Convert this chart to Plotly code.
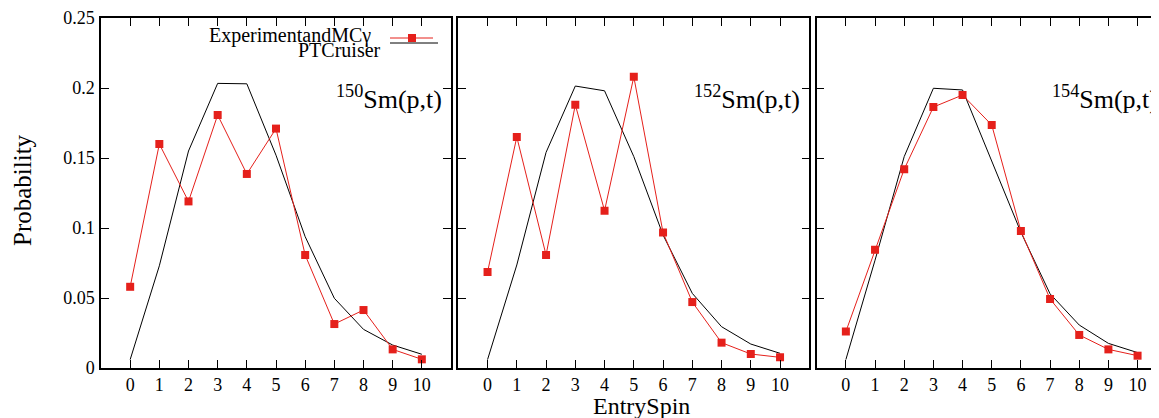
import plotly.graph_objects as go
from plotly.subplots import make_subplots

spins = [0, 1, 2, 3, 4, 5, 6, 7, 8, 9, 10]
panel_labels = ["<sup>150</sup>Sm(p,t)", "<sup>152</sup>Sm(p,t)", "<sup>154</sup>Sm(p,t)"]

exp_150 = [0.058, 0.160, 0.119, 0.1807, 0.1386, 0.171, 0.0807, 0.0314, 0.0414, 0.0133, 0.0062]
sim_150 = [0.006, 0.073, 0.155, 0.2033, 0.2030, 0.152, 0.0938, 0.0498, 0.0276, 0.0164, 0.0098]

exp_152 = [0.0686, 0.165, 0.0807, 0.188, 0.1124, 0.208, 0.0967, 0.0471, 0.0181, 0.0100, 0.0076]
sim_152 = [0.006, 0.0736, 0.154, 0.2014, 0.198, 0.151, 0.095, 0.0533, 0.0295, 0.0171, 0.0105]

exp_154 = [0.026, 0.0845, 0.142, 0.1864, 0.195, 0.1736, 0.0979, 0.0493, 0.0236, 0.0133, 0.0088]
sim_154 = [0.006, 0.077, 0.151, 0.1998, 0.1986, 0.148, 0.097, 0.053, 0.0307, 0.0176, 0.011]

legend_exp = "ExperimentandMCγ"
legend_sim = "PTCruiser"
x_title = "EntrySpin"
y_title = "Probability"
y_ticks = [0, 0.05, 0.1, 0.15, 0.2, 0.25]
y_ticktext = ["0", "0.05", "0.1", "0.15", "0.2", "0.25"]

RED = "#e5201b"
FONT = "Liberation Serif"

# page body has an 8px margin; size the figure so it ends at the window edge
OFF = 8
W, H = 1159 - OFF, 418 - OFF
ML, MR, MT, MB = 101 - OFF, 0, 18 - OFF, 50
PW = W - ML - MR
PH = H - MT - MB

def px_x(p):
    return (p - OFF - ML) / PW

def px_y(p):
    return (H - MB - (p - OFF)) / PH

fig = make_subplots(rows=1, cols=3, horizontal_spacing=0.0)

exps = [exp_150, exp_152, exp_154]
sims = [sim_150, sim_152, sim_154]
for i in range(3):
    fig.add_trace(go.Scatter(x=spins, y=sims[i], mode="lines",
                             line=dict(color="black", width=1), showlegend=False),
                  row=1, col=i + 1)
    fig.add_trace(go.Scatter(x=spins, y=exps[i], mode="lines+markers",
                             line=dict(color=RED, width=1),
                             marker=dict(symbol="square", size=8, color=RED),
                             showlegend=False),
                  row=1, col=i + 1)

domains = [[0, px_x(451)], [px_x(458.3), px_x(809.3)], [px_x(816.7), 1.0]]
unit = 29.17
xranges = [[-1, 11], [-1, 11], [-1, -1 + (1159 - 816.7) / unit]]

for i in range(3):
    xa = "xaxis" if i == 0 else f"xaxis{i+1}"
    ya = "yaxis" if i == 0 else f"yaxis{i+1}"
    fig.layout[xa].update(domain=domains[i], range=xranges[i], tickvals=spins,
                          ticktext=[str(s) for s in spins],
                          ticks="inside", ticklen=8, tickwidth=1, tickcolor="black",
                          showline=True, linecolor="black", linewidth=1.5,
                          mirror="ticks", showgrid=False, zeroline=False,
                          tickfont=dict(family=FONT, size=18, color="black"),
                          ticklabelstandoff=0)
    fig.layout[ya].update(range=[0, 0.25], tickvals=y_ticks, ticktext=y_ticktext,
                          ticks="inside", ticklen=8, tickwidth=1, tickcolor="black",
                          showline=True, linecolor="black", linewidth=1.5,
                          mirror=("ticks" if i < 2 else False),
                          showgrid=False, zeroline=False,
                          showticklabels=(i == 0),
                          tickfont=dict(family=FONT, size=18, color="black"),
                          ticklabelstandoff=1)
    xref = "x" if i == 0 else f"x{i+1}"
    yref = "y" if i == 0 else f"y{i+1}"
    fig.add_annotation(x=7.0, y=0.193, xref=xref, yref=yref, text=panel_labels[i],
                       showarrow=False, xanchor="left", yanchor="middle",
                       font=dict(family=FONT, size=26, color="black"))

# axis titles
fig.add_annotation(x=px_x(641), y=px_y(406), xref="paper", yref="paper", text=x_title,
                   showarrow=False, xanchor="center", yanchor="middle",
                   font=dict(family=FONT, size=24, color="black"))
fig.add_annotation(x=px_x(22), y=px_y(190), xref="paper", yref="paper", text=y_title,
                   showarrow=False, xanchor="center", yanchor="middle", textangle=-90,
                   font=dict(family=FONT, size=25, color="black"))

# legend (key) texts and samples
fig.add_annotation(x=px_x(373), y=px_y(35), xref="paper", yref="paper", text=legend_exp,
                   showarrow=False, xanchor="right", yanchor="middle",
                   font=dict(family=FONT, size=20, color="black"))
fig.add_annotation(x=px_x(383), y=px_y(50), xref="paper", yref="paper", text=legend_sim,
                   showarrow=False, xanchor="right", yanchor="middle",
                   font=dict(family=FONT, size=20, color="black"))
fig.add_shape(type="line", xref="paper", yref="paper", x0=px_x(390), x1=px_x(433),
              y0=px_y(38), y1=px_y(38), line=dict(color=RED, width=1))
fig.add_shape(type="line", xref="paper", yref="paper", x0=px_x(390), x1=px_x(438),
              y0=px_y(43), y1=px_y(43), line=dict(color="black", width=1))
fig.add_shape(type="rect", xref="paper", yref="paper", x0=px_x(408), x1=px_x(416),
              y0=px_y(42), y1=px_y(34), line=dict(width=0), fillcolor=RED)

fig.update_layout(width=W, height=H, margin=dict(l=ML, r=MR, t=MT, b=MB),
                  paper_bgcolor="white", plot_bgcolor="white", showlegend=False,
                  font=dict(family=FONT, color="black"))

fig.write_html("out.html")
